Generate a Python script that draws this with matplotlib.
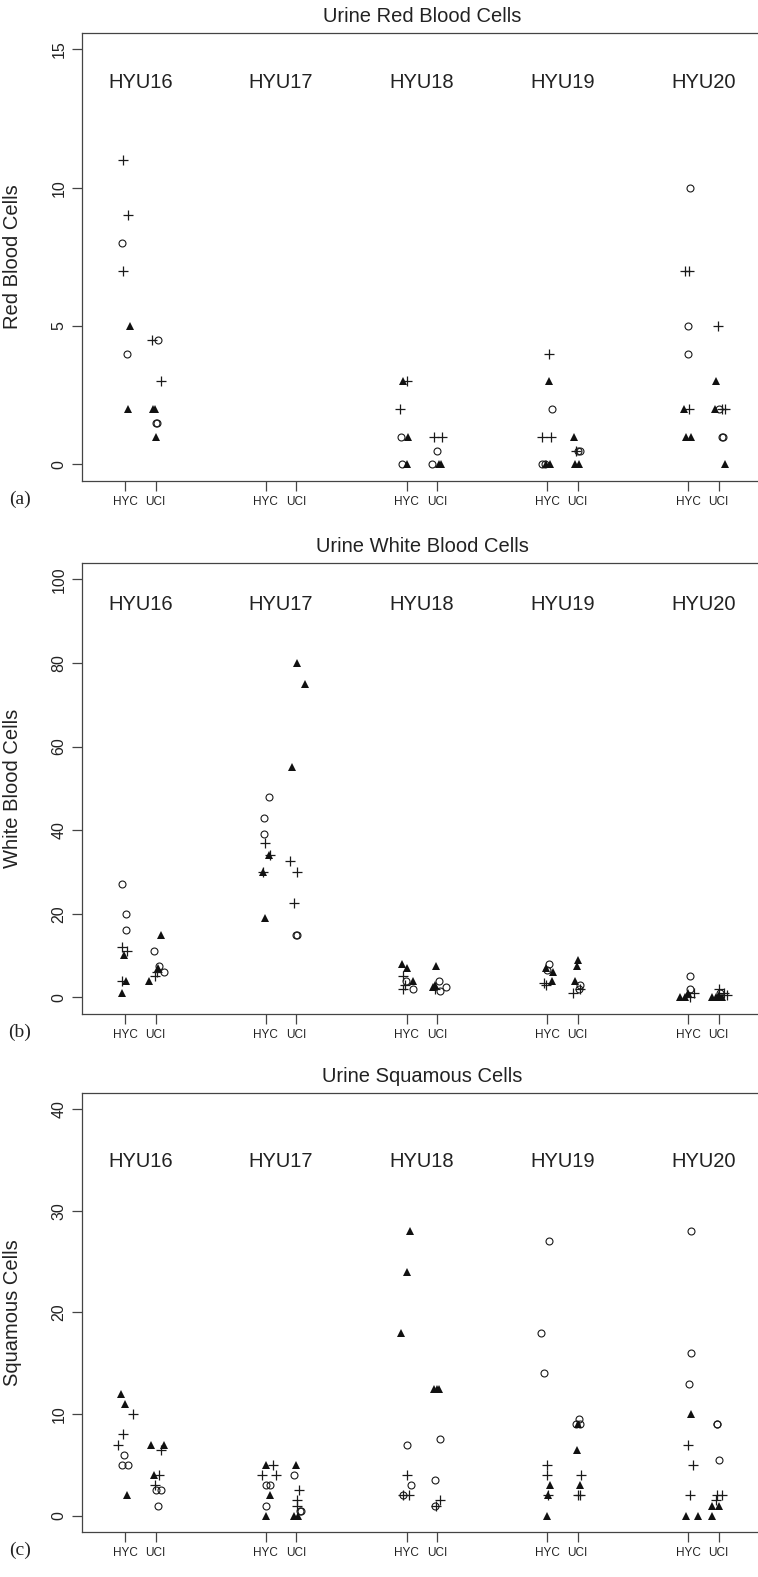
import matplotlib.pyplot as plt

plt.rcParams['font.family'] = ['Liberation Sans', 'DejaVu Sans']
plt.rcParams['axes.linewidth'] = 0.9
plt.rcParams['axes.edgecolor'] = '#444444'

subjects = ["HYU16", "HYU17", "HYU18", "HYU19", "HYU20"]
sites = ["HYC", "UCI"]

# (subject, site, value, horizontal jitter)
rbc_plus = [
    ("HYU16", "HYC", 11, -1.7), ("HYU16", "HYC", 9, 2.7), ("HYU16", "HYC", 7, -1.7),
    ("HYU16", "UCI", 4.5, -3.3), ("HYU16", "UCI", 3, 5),
    ("HYU18", "HYC", 3, 0.7), ("HYU18", "HYC", 2, -7),
    ("HYU18", "UCI", 1, -3), ("HYU18", "UCI", 1, 5),
    ("HYU19", "HYC", 4, 1.7), ("HYU19", "HYC", 1, -5), ("HYU19", "HYC", 1, 3.3),
    ("HYU19", "UCI", 0.5, -2),
    ("HYU20", "HYC", 7, -3.3), ("HYU20", "HYC", 7, 1), ("HYU20", "HYC", 2, 1),
    ("HYU20", "UCI", 5, -1), ("HYU20", "UCI", 2, 3), ("HYU20", "UCI", 2, 6.7),
]
rbc_circle = [
    ("HYU16", "HYC", 8, -3), ("HYU16", "HYC", 4, 2.3),
    ("HYU16", "UCI", 4.5, 2), ("HYU16", "UCI", 1.5, 0), ("HYU16", "UCI", 1.5, 1),
    ("HYU18", "HYC", 1, -6), ("HYU18", "HYC", 0, -5),
    ("HYU18", "UCI", 0.5, 0), ("HYU18", "UCI", 0, -5),
    ("HYU19", "HYC", 2, 5), ("HYU19", "HYC", 0, -5), ("HYU19", "HYC", 0, -2),
    ("HYU19", "UCI", 0.5, 0), ("HYU19", "UCI", 0.5, 2.5),
    ("HYU20", "HYC", 10, 2.3), ("HYU20", "HYC", 5, 0), ("HYU20", "HYC", 4, 0),
    ("HYU20", "UCI", 2, 0.7), ("HYU20", "UCI", 1, 3.5), ("HYU20", "UCI", 1, 4.5),
]
rbc_tri = [
    ("HYU16", "HYC", 5, 5.3), ("HYU16", "HYC", 2, 3),
    ("HYU16", "UCI", 2, -2.3), ("HYU16", "UCI", 2, -1), ("HYU16", "UCI", 1, 0),
    ("HYU18", "HYC", 3, -4), ("HYU18", "HYC", 1, 1.3), ("HYU18", "HYC", 0, 0.7),
    ("HYU18", "UCI", 0, 1.5), ("HYU18", "UCI", 0, 4),
    ("HYU19", "HYC", 3, 1.7), ("HYU19", "HYC", 0, -1), ("HYU19", "HYC", 0, 3),
    ("HYU19", "UCI", 1, -4), ("HYU19", "UCI", 0, -3), ("HYU19", "UCI", 0, 1),
    ("HYU20", "HYC", 2, -4.3), ("HYU20", "HYC", 1, -2.3), ("HYU20", "HYC", 1, 3.3),
    ("HYU20", "UCI", 3, -2.3), ("HYU20", "UCI", 2, -3.3), ("HYU20", "UCI", 0, 6),
]

wbc_plus = [
    ("HYU16", "HYC", 12, -2.6), ("HYU16", "HYC", 11, 1.7), ("HYU16", "HYC", 4, -2.7),
    ("HYU16", "UCI", 5, -1), ("HYU16", "UCI", 6, 1.7),
    ("HYU17", "HYC", 37, -0.3), ("HYU17", "HYC", 34, 4), ("HYU17", "HYC", 30, -2.7),
    ("HYU17", "UCI", 32.5, -6.3), ("HYU17", "UCI", 30, 1), ("HYU17", "UCI", 22.5, -2),
    ("HYU18", "HYC", 5, -3.3), ("HYU18", "HYC", 2, -3.3), ("HYU18", "HYC", 3, -2),
    ("HYU18", "UCI", 2, -2),
    ("HYU19", "HYC", 3.5, -3.7), ("HYU19", "HYC", 3, -1),
    ("HYU19", "UCI", 2, 2), ("HYU19", "UCI", 1, -4.3),
    ("HYU20", "HYC", 1, 5.7), ("HYU20", "HYC", 0, 1.5),
    ("HYU20", "UCI", 2, 0), ("HYU20", "UCI", 1, 5), ("HYU20", "UCI", 0.5, 8.7),
]
wbc_circle = [
    ("HYU16", "HYC", 27, -2.7), ("HYU16", "HYC", 20, 1), ("HYU16", "HYC", 16, 1.3),
    ("HYU16", "UCI", 11, -1.3), ("HYU16", "UCI", 7.5, 3), ("HYU16", "UCI", 6, 8),
    ("HYU17", "HYC", 48, 3.3), ("HYU17", "HYC", 43, -2), ("HYU17", "HYC", 39, -1.7),
    ("HYU17", "UCI", 15, -0.3), ("HYU17", "UCI", 15, 0.7),
    ("HYU18", "HYC", 4, -1), ("HYU18", "HYC", 2, 6.3),
    ("HYU18", "UCI", 4, 1.7), ("HYU18", "UCI", 1.5, 3.3), ("HYU18", "UCI", 2.5, 8.5),
    ("HYU19", "HYC", 8, 1.7), ("HYU19", "HYC", 6.5, 0),
    ("HYU19", "UCI", 3, 2.7), ("HYU19", "UCI", 2, 1),
    ("HYU20", "HYC", 5, 1.7), ("HYU20", "HYC", 2, 2.3),
    ("HYU20", "UCI", 1, 1.7),
]
wbc_tri = [
    ("HYU16", "HYC", 10, -1), ("HYU16", "HYC", 4, 1.3), ("HYU16", "HYC", 1, -2.7),
    ("HYU16", "UCI", 4, -7), ("HYU16", "UCI", 15, 5), ("HYU16", "UCI", 7, 2.7),
    ("HYU17", "HYC", 34, 3.7), ("HYU17", "HYC", 30, -2.7), ("HYU17", "HYC", 19, -0.3),
    ("HYU17", "UCI", 80, 0.3), ("HYU17", "UCI", 75, 8.3), ("HYU17", "UCI", 55, -4),
    ("HYU18", "HYC", 8, -4.3), ("HYU18", "HYC", 7, 0.7), ("HYU18", "HYC", 4, 6.3),
    ("HYU18", "UCI", 7.5, -1), ("HYU18", "UCI", 3, -1.7), ("HYU18", "UCI", 2.5, -3.7),
    ("HYU19", "HYC", 7, -1), ("HYU19", "HYC", 6, 6), ("HYU19", "HYC", 4, 4.3),
    ("HYU19", "UCI", 9, 0), ("HYU19", "UCI", 7.5, -0.3), ("HYU19", "UCI", 4, -2.3),
    ("HYU20", "HYC", 0, -7.7), ("HYU20", "HYC", 0, -3.3), ("HYU20", "HYC", 1, 0.3),
    ("HYU20", "UCI", 0, -6.7), ("HYU20", "UCI", 0, -3), ("HYU20", "UCI", 0.5, 0),
    ("HYU20", "UCI", 0, 3),
]

sq_plus = [
    ("HYU16", "HYC", 10, 7.7), ("HYU16", "HYC", 8, -2.3), ("HYU16", "HYC", 7, -6.7),
    ("HYU16", "UCI", 6.5, 5.3), ("HYU16", "UCI", 4, 3.3), ("HYU16", "UCI", 3, -0.7),
    ("HYU17", "HYC", 5, 7.7), ("HYU17", "HYC", 4, -4), ("HYU17", "HYC", 4, 10),
    ("HYU17", "UCI", 2.5, 2.7), ("HYU17", "UCI", 1.5, 1), ("HYU17", "UCI", 1, 1),
    ("HYU18", "HYC", 4, 0), ("HYU18", "HYC", 2, -3.3), ("HYU18", "HYC", 2, 2.3),
    ("HYU18", "UCI", 1, -1), ("HYU18", "UCI", 1.5, 3.3),
    ("HYU19", "HYC", 5, 0), ("HYU19", "HYC", 4, 0), ("HYU19", "HYC", 2, 1),
    ("HYU19", "UCI", 4, 3.7), ("HYU19", "UCI", 2, 0), ("HYU19", "UCI", 2, 2.7),
    ("HYU20", "HYC", 7, -0.3), ("HYU20", "HYC", 5, 4.7), ("HYU20", "HYC", 2, 1.7),
    ("HYU20", "UCI", 2, -1.7), ("HYU20", "UCI", 2, 3.3), ("HYU20", "UCI", 1.5, -3),
]
sq_circle = [
    ("HYU16", "HYC", 6, -0.7), ("HYU16", "HYC", 5, -3.3), ("HYU16", "HYC", 5, 3.3),
    ("HYU16", "UCI", 2.5, 0), ("HYU16", "UCI", 2.5, 5.3), ("HYU16", "UCI", 1, 2.7),
    ("HYU17", "HYC", 3, 0), ("HYU17", "HYC", 3, 4.3), ("HYU17", "HYC", 1, 0),
    ("HYU17", "UCI", 4, -2.3), ("HYU17", "UCI", 0.5, 3.5), ("HYU17", "UCI", 0.5, 4.5),
    ("HYU18", "HYC", 7, 0.7), ("HYU18", "HYC", 3, 4), ("HYU18", "HYC", 2, -3.3),
    ("HYU18", "UCI", 7.5, 3), ("HYU18", "UCI", 3.5, -1.7), ("HYU18", "UCI", 1, -1.7),
    ("HYU19", "HYC", 27, 1.7), ("HYU19", "HYC", 18, -6.7), ("HYU19", "HYC", 14, -3.3),
    ("HYU19", "UCI", 9.5, 1), ("HYU19", "UCI", 9, 2), ("HYU19", "UCI", 9, -2),
    ("HYU20", "HYC", 28, 3), ("HYU20", "HYC", 16, 3), ("HYU20", "HYC", 13, 0.7),
    ("HYU20", "UCI", 9, -2), ("HYU20", "UCI", 9, -1.3), ("HYU20", "UCI", 5.5, 0.7),
]
sq_tri = [
    ("HYU16", "HYC", 12, -4), ("HYU16", "HYC", 11, 0), ("HYU16", "HYC", 2, 1.7),
    ("HYU16", "UCI", 7, -4.7), ("HYU16", "UCI", 7, 8.3), ("HYU16", "UCI", 4, -1.3),
    ("HYU17", "HYC", 5, 0), ("HYU17", "HYC", 2, 4.3), ("HYU17", "HYC", 0, 0.7),
    ("HYU17", "UCI", 5, 0), ("HYU17", "UCI", 0, -2.3), ("HYU17", "UCI", 0, 1.7),
    ("HYU18", "HYC", 28, 3.3), ("HYU18", "HYC", 24, 0), ("HYU18", "HYC", 18, -5.3),
    ("HYU18", "UCI", 12.5, -3.3), ("HYU18", "UCI", 12.5, -0.5), ("HYU18", "UCI", 12.5, 2),
    ("HYU19", "HYC", 3, 2.7), ("HYU19", "HYC", 2, 1), ("HYU19", "HYC", 0, 0),
    ("HYU19", "UCI", 9, 0), ("HYU19", "UCI", 6.5, -0.7), ("HYU19", "UCI", 3, 2.7),
    ("HYU20", "HYC", 10, 3), ("HYU20", "HYC", 0, -1.7), ("HYU20", "HYC", 0, 9.7),
    ("HYU20", "UCI", 1, -6.7), ("HYU20", "UCI", 1, 0), ("HYU20", "UCI", 0, -6.7),
]

panels = [
    ("Urine Red Blood Cells", "Red Blood Cells", "(a)", [0, 5, 10, 15], 13.8,
     rbc_plus, rbc_circle, rbc_tri),
    ("Urine White Blood Cells", "White Blood Cells", "(b)", [0, 20, 40, 60, 80, 100], 94,
     wbc_plus, wbc_circle, wbc_tri),
    ("Urine Squamous Cells", "Squamous Cells", "(c)", [0, 10, 20, 30, 40], 34.8,
     sq_plus, sq_circle, sq_tri),
]

# axes boxes in pixels (top, bottom) of a 758x1577 figure
W, H = 758, 1577
boxes = [(32.7, 481), (562.7, 1014), (1092.7, 1532)]
left_px, right_px = 82, 762
first_px = 125
group_step = 140.75
site_step = 30.5
ink = '#1a1a1a'


def xpos(subj, site, jit):
    return subjects.index(subj) * group_step + sites.index(site) * site_step + jit


fig = plt.figure(figsize=(W / 100, H / 100), dpi=100)

for (title, ylab, tag, yt, lab_y, pl, ci, tr), (top, bot) in zip(panels, boxes):
    ax = fig.add_axes([left_px / W, 1 - bot / H,
                       (right_px - left_px) / W, (bot - top) / H])
    ax.plot([xpos(s, t, j) for s, t, v, j in pl], [v for s, t, v, j in pl],
            ls='none', marker='+', ms=6.5, mew=0.9, color=ink)
    ax.plot([xpos(s, t, j) for s, t, v, j in ci], [v for s, t, v, j in ci],
            ls='none', marker='o', ms=5, mew=0.8, mfc='none', mec=ink)
    ax.plot([xpos(s, t, j) for s, t, v, j in tr], [v for s, t, v, j in tr],
            ls='none', marker='^', ms=6.3, mew=0, color='#111111')

    ax.set_xlim(left_px - first_px, right_px - first_px)
    pad = yt[-1] * 0.04
    ax.set_ylim(-pad, yt[-1] + pad)

    xt = []
    xl = []
    for g in range(len(subjects)):
        for s in range(len(sites)):
            xt.append(g * group_step + s * site_step)
            xl.append(sites[s])
        ax.text(g * group_step + site_step / 2, lab_y, subjects[g],
                ha='center', va='center', fontsize=14.5, color='#222222')
    ax.set_xticks(xt)
    ax.set_xticklabels(xl, fontsize=8.5, color='#222222')
    ax.set_yticks(yt)
    ax.set_yticklabels([str(v) for v in yt], fontsize=11.5, color='#222222',
                       rotation=90, va='center')
    ax.tick_params(axis='x', length=7, width=0.9, pad=4, color='#444444')
    ax.tick_params(axis='y', length=7, width=0.9, pad=4, color='#444444')
    ax.set_ylabel(ylab, fontsize=14.5, color='#222222')
    ax.yaxis.set_label_coords((22 - left_px) / (right_px - left_px), 0.5)

    fig.text((left_px + right_px) / 2 / W, 1 - (top - 16) / H, title,
             ha='center', va='center', fontsize=14.5, color='#222222')
    fig.text(20 / W, 1 - (bot + 18) / H, tag, ha='center', va='center',
             fontsize=14, family=['Liberation Serif', 'DejaVu Serif'], color='#222222')

fig.savefig('out.png', dpi=100)
